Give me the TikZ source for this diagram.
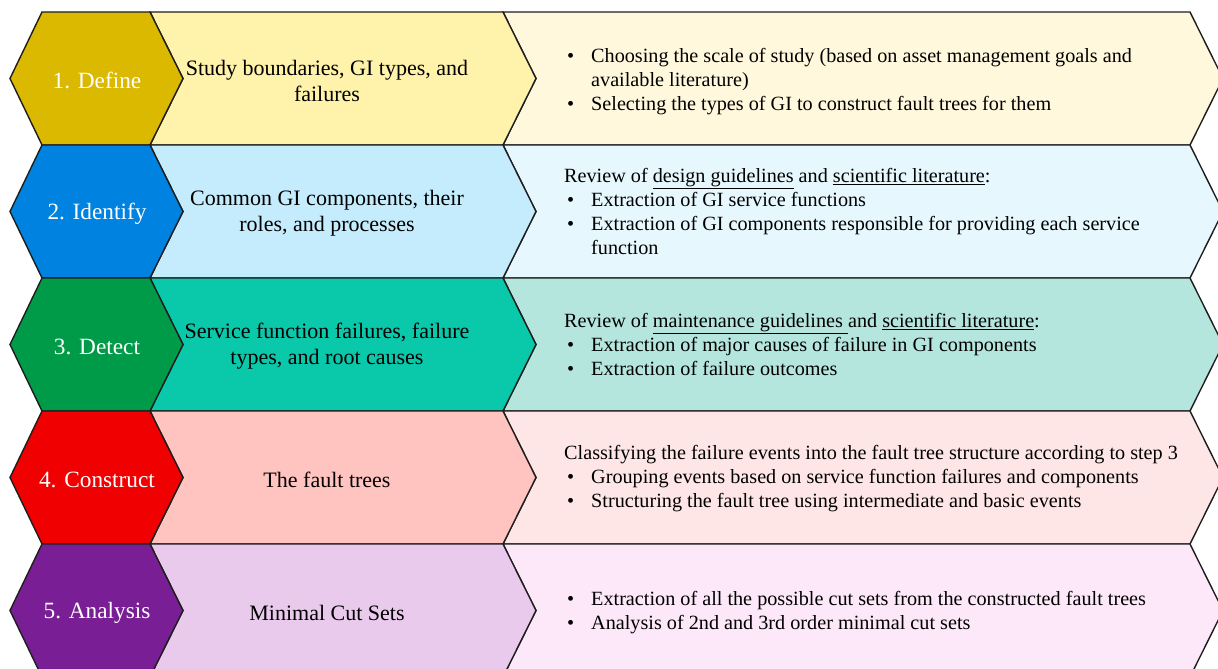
\documentclass[tikz,border=0pt]{standalone}
\usepackage{fontspec}
\setmainfont{Liberation Serif}

% stage colours: hexagon / middle chevron / right chevron
\definecolor{hexA}{RGB}{218,185,0}
\definecolor{midA}{RGB}{255,242,170}
\definecolor{rightA}{RGB}{255,248,220}
\definecolor{hexB}{RGB}{0,130,225}
\definecolor{midB}{RGB}{197,236,252}
\definecolor{rightB}{RGB}{230,248,254}
\definecolor{hexC}{RGB}{0,155,72}
\definecolor{midC}{RGB}{10,200,170}
\definecolor{rightC}{RGB}{180,230,222}
\definecolor{hexD}{RGB}{240,0,0}
\definecolor{midD}{RGB}{255,196,192}
\definecolor{rightD}{RGB}{255,230,230}
\definecolor{hexE}{RGB}{122,30,150}
\definecolor{midE}{RGB}{234,202,236}
\definecolor{rightE}{RGB}{252,232,248}
\definecolor{edge}{RGB}{30,30,30}

% bullet line and its continuation
\newcommand\bl{\makebox[27pt][l]{\hspace{3pt}\textbullet}}
\newcommand\cont{\hspace*{27pt}}

\begin{document}
\begin{tikzpicture}[x=1pt,y=-1pt,
  stageline/.style={draw=edge, line width=1.4pt, line join=miter},
  steplabel/.style={text=white, font=\fontsize{23.3}{27}\selectfont, inner sep=0pt},
  midlabel/.style={text=black, align=center, font=\fontsize{22}{26}\selectfont, inner sep=0pt},
  detail/.style={text=black, align=left, anchor=west, font=\fontsize{20.2}{24}\selectfont, inner sep=0pt}]
\useasboundingbox (0,0) rectangle (1218,669);
\clip (0,0) rectangle (1218,669);
\fill[white] (0,0) rectangle (1218,669);

% five stages: hexagon, middle chevron, right chevron
\foreach \i/\hc/\mc/\rc in {0/hexA/midA/rightA, 1/hexB/midB/rightB, 2/hexC/midC/rightC, 3/hexD/midD/rightD, 4/hexE/midE/rightE} {
  \pgfmathsetmacro\t{12+133*\i}
  \pgfmathsetmacro\m{\t+66.5}
  \pgfmathsetmacro\b{\t+133}
  \filldraw[stageline, fill=\rc] (503,\t) -- (1190,\t) -- (1223,\m) -- (1190,\b) -- (503,\b) -- (536,\m) -- cycle;
  \filldraw[stageline, fill=\mc] (150,\t) -- (503,\t) -- (536,\m) -- (503,\b) -- (150,\b) -- (183,\m) -- cycle;
  \filldraw[stageline, fill=\hc] (10,\m) -- (42,\t) -- (150,\t) -- (183,\m) -- (150,\b) -- (42,\b) -- cycle;
}

% stage names
\node[steplabel] (s1) at (97,80.5)  {1. Define};
\node[steplabel] (s2) at (97,213.5) {2. Identify};
\node[steplabel] (s3) at (97,346.5) {3. Detect};
\node[steplabel] (s4) at (97,479.5) {4. Construct};
\node[steplabel] (s5) at (97,612.5) {5. Analysis};

% what each stage produces
\node[midlabel] (m1) at (327,80.5)  {Study boundaries, GI types, and\\failures};
\node[midlabel] (m2) at (327,213.5) {Common GI components, their\\roles, and processes};
\node[midlabel] (m3) at (327,346.5) {Service function failures, failure\\types, and root causes};
\node[midlabel] (m4) at (327,479.5) {The fault trees};
\node[midlabel] (m5) at (327,612.5) {Minimal Cut Sets};

% how each stage is carried out
\node[detail] (d1) at (564,81.5) {%
  \bl Choosing the scale of study (based on asset management goals and\\
  \cont available literature)\\
  \bl Selecting the types of GI to construct fault trees for them};
\node[detail] (d2) at (564,211.5) {%
  Review of \underline{design guidelines} and \underline{scientific literature}:\\
  \bl Extraction of GI service functions\\
  \bl Extraction of GI components responsible for providing each service\\
  \cont function};
\node[detail] (d3) at (564,344.5) {%
  Review of \underline{maintenance guidelines }and \underline{scientific literature}:\\
  \bl Extraction of major causes of failure in GI components\\
  \bl Extraction of failure outcomes};
\node[detail] (d4) at (564,478.5) {%
  Classifying the failure events into the fault tree structure according to step 3\\
  \bl Grouping events based on service function failures and components\\
  \bl Structuring the fault tree using intermediate and basic events};
\node[detail] (d5) at (564,612.5) {%
  \bl Extraction of all the possible cut sets from the constructed fault trees\\
  \bl Analysis of 2nd and 3rd order minimal cut sets};
\end{tikzpicture}
\end{document}
